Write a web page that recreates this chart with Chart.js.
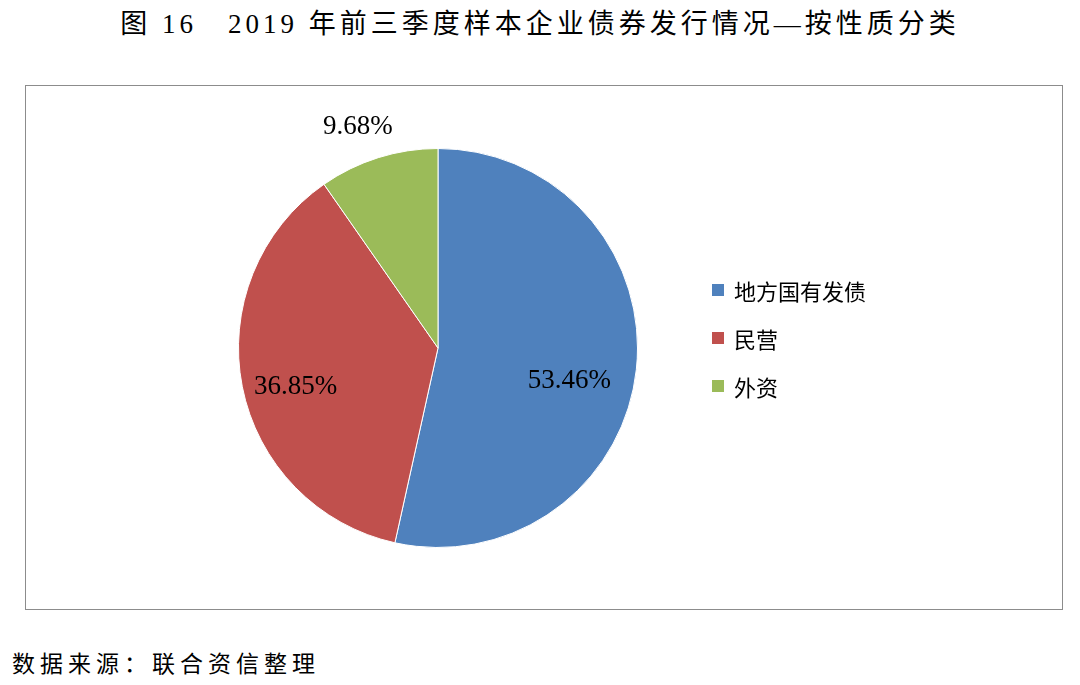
<!DOCTYPE html>
<html lang="zh">
<head>
<meta charset="UTF-8">
<title>图16</title>
<style>
  body { margin: 0; width: 1080px; height: 685px; background: #fff; position: relative;
         font-family: "Liberation Serif", "Noto Sans CJK SC", serif; color: #000; }
  .title { position: absolute; top: 2px; left: 0; width: 1080px; text-align: center; font-size: 27px; letter-spacing: 4px; }
  .box { position: absolute; left: 25px; top: 85px; width: 1036px; height: 523px; border: 1.5px solid #8c8c8c; }
  .chart-wrapper { position: absolute; left: 0; top: 0; width: 824px; height: 525px; }
  .legend { position: absolute; left: 686px; top: 180px; font-size: 22px; font-family: "Noto Sans CJK SC", sans-serif; }
  .legend div { height: 48px; display: flex; align-items: center; }
  .legend span { display: inline-block; width: 12px; height: 12px; margin-right: 10px; }
  .source { position: absolute; left: 12px; top: 645px; font-size: 23px; font-family: "Noto Sans CJK SC", sans-serif; letter-spacing: 5px; }
</style>
</head>
<body>
  <div class="title">图 16　2019 年前三季度样本企业债券发行情况—按性质分类</div>
  <div class="box">
    <div class="chart-wrapper"><canvas id="pie"></canvas></div>
    <div class="legend" id="legend"></div>
  </div>
  <div class="source">数据来源：联合资信整理</div>

  <script src="https://cdn.jsdelivr.net/npm/chart.js@4.4.0/dist/chart.umd.min.js"></script>
  <script>
    const LABELS = ['地方国有发债', '民营', '外资'];
    const VALUES = [53.46, 36.85, 9.68];
    const COLORS = ['#4f81bd', '#c0504d', '#9bbb59'];
    const LABEL_RADIUS = [0.68, 0.74, 1.18];
    const LABEL_ANGLE_SHIFT = [8, -4, -2.5];

    document.getElementById('legend').innerHTML = LABELS
      .map((l, i) => `<div><span style="background:${COLORS[i]}"></span>${l}</div>`).join('');

    const sliceLabels = {
      id: 'sliceLabels',
      afterDatasetsDraw(chart) {
        const ctx = chart.ctx;
        ctx.save();
        ctx.font = '27px "Liberation Serif", serif';
        ctx.fillStyle = '#000';
        ctx.textAlign = 'center';
        ctx.textBaseline = 'middle';
        chart.getDatasetMeta(0).data.forEach((arc, i) => {
          const a = (arc.startAngle + arc.endAngle) / 2 + LABEL_ANGLE_SHIFT[i] * Math.PI / 180;
          const r = arc.outerRadius * LABEL_RADIUS[i];
          ctx.fillText(VALUES[i].toFixed(2) + '%', arc.x + Math.cos(a) * r, arc.y + Math.sin(a) * r);
        });
        ctx.restore();
      }
    };

    new Chart(document.getElementById('pie'), {
      type: 'pie',
      data: { labels: LABELS, datasets: [{ data: VALUES, backgroundColor: COLORS, borderColor: '#fff', borderWidth: 1 }] },
      plugins: [sliceLabels],
      options: {
        responsive: true, maintainAspectRatio: false, animation: false,
        layout: { padding: { top: 62, bottom: 63 } },
        plugins: { legend: { display: false }, tooltip: { enabled: false } }
      }
    });
  </script>
</body>
</html>
